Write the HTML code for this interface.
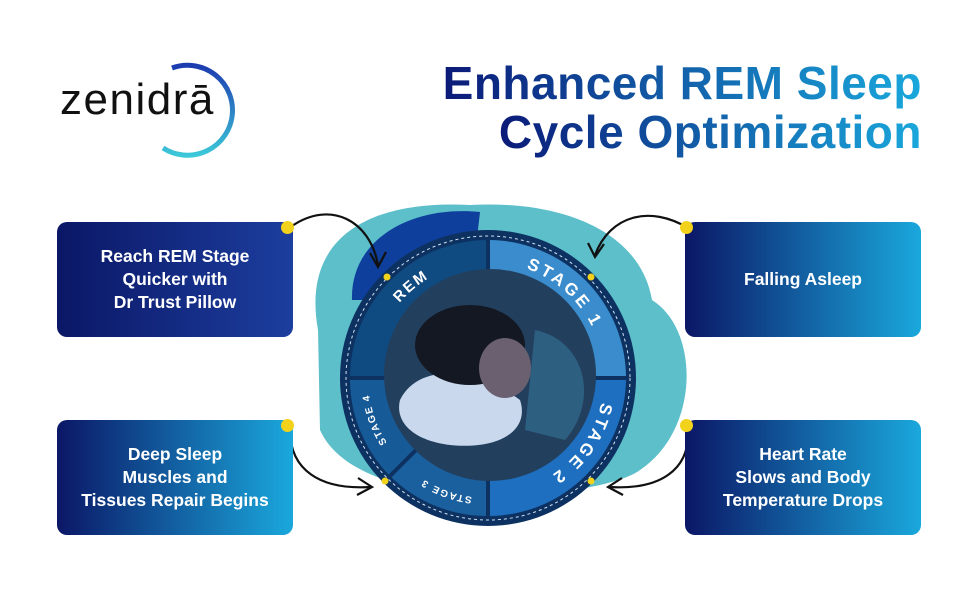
<!DOCTYPE html>
<html><head><style>
body{margin:0;width:970px;height:600px;background:#fff;position:relative;overflow:hidden;font-family:"Liberation Sans",sans-serif}
.t{position:absolute;right:48px;font-weight:bold;font-size:46px;letter-spacing:0.5px;background:linear-gradient(90deg,#0b1a78,#1aa8dc);-webkit-background-clip:text;background-clip:text;color:transparent;white-space:nowrap}
.box{position:absolute;width:236px;height:115px;border-radius:10px;color:#fff;font-weight:bold;font-size:17.5px;line-height:23px;display:flex;align-items:center;justify-content:center;text-align:center}
.dot{position:absolute;width:13px;height:13px;border-radius:50%;background:#f3d21c}
</style></head><body>
<div style="position:absolute;left:60px;top:75px;font-size:44px;color:#111;letter-spacing:1.5px">zenidrā</div>
<svg style="position:absolute;left:0;top:0" width="970" height="600">
<defs><linearGradient id="lg" x1="0" y1="0" x2="0" y2="1"><stop offset="0" stop-color="#1c3bb0"/><stop offset="1" stop-color="#3cc8d8"/></linearGradient>
<path id="cp" d="M488 262 A116 116 0 1 1 488 494 A116 116 0 1 1 488 262"/>
<path id="cp2" d="M488 258 A120 120 0 1 1 488 498 A120 120 0 1 1 488 258"/>
</defs>
<path d="M172 68 A45 45 0 1 1 163 148" fill="none" stroke="url(#lg)" stroke-width="5"/>
<path d="M318 330 C300 230 380 200 470 205 C560 200 640 230 652 300 C700 330 700 430 640 470 C600 500 360 520 320 430 Z" fill="#5cbfca"/>
<path d="M352 300 C350 240 410 205 480 212 L470 300 Z" fill="#0e3f9c"/>
<circle cx="488" cy="378" r="148" fill="#0d3262"/>
<path d="M488 378 L488 240 A138 138 0 0 0 350 378 Z" fill="#0f4a80"/>
<path d="M488 378 L488 240 A138 138 0 0 1 626 378 Z" fill="#3a8ccc"/>
<path d="M488 378 L626 378 A138 138 0 0 1 488 516 Z" fill="#1e6fbf"/>
<path d="M488 378 L488 516 A138 138 0 0 1 390 476 Z" fill="#1a5f9e"/>
<path d="M488 378 L390 476 A138 138 0 0 1 350 378 Z" fill="#175a98"/>
<line x1="488" y1="240" x2="488" y2="516" stroke="#0d3262" stroke-width="4"/>
<line x1="350" y1="378" x2="626" y2="378" stroke="#0d3262" stroke-width="4"/>
<line x1="488" y1="378" x2="390" y2="476" stroke="#0d3262" stroke-width="4"/>
<circle cx="488" cy="378" r="142" fill="none" stroke="#cfe0f0" stroke-width="1" stroke-dasharray="3 3"/>
<circle cx="490" cy="375" r="106" fill="#233f5e"/>
<path d="M400 400 C420 360 480 370 520 400 C530 430 500 450 450 445 C410 440 395 420 400 400 Z" fill="#c9d8ec"/>
<ellipse cx="470" cy="345" rx="55" ry="40" fill="#141822"/>
<ellipse cx="505" cy="368" rx="26" ry="30" fill="#6a6070"/>
<path d="M535 330 C585 340 600 400 565 440 L525 430 Z" fill="#2d5f80"/>
<g fill="#fff" font-weight="bold" font-family="Liberation Sans" text-anchor="middle">
<text font-size="15" letter-spacing="2"><textPath href="#cp" startOffset="88.9%">REM</textPath></text>
<text font-size="17" letter-spacing="3"><textPath href="#cp" startOffset="11.7%">STAGE 1</textPath></text>
<text font-size="17" letter-spacing="3"><textPath href="#cp" startOffset="34.7%">STAGE 2</textPath></text>
<text font-size="10" letter-spacing="1.5"><textPath href="#cp2" startOffset="55.6%">STAGE 3</textPath></text>
<text font-size="10" letter-spacing="1.5"><textPath href="#cp2" startOffset="69.4%">STAGE 4</textPath></text>
</g>
<g fill="#f3d21c"><circle cx="387" cy="277" r="3.5"/><circle cx="591" cy="277" r="3.5"/><circle cx="385" cy="481" r="3.5"/><circle cx="591" cy="481" r="3.5"/></g>
<g fill="none" stroke="#111" stroke-width="2.2">
<path d="M292 226 C330 200 370 220 378 265"/><path d="M370 253 L378 267 L386 252"/>
<path d="M688 228 C650 205 610 215 595 255"/><path d="M588 243 L595 257 L604 244"/>
<path d="M290 430 C290 470 320 490 370 487"/><path d="M358 478 L372 487 L357 495"/>
<path d="M688 430 C690 470 660 490 610 487"/><path d="M622 478 L608 487 L623 495"/>
</g>
</svg>
<div class="t" style="top:56px">Enhanced REM Sleep</div>
<div class="t" style="top:105px">Cycle Optimization</div>
<div class="box" style="left:57px;top:222px;background:linear-gradient(90deg,#0b1766,#1c3e9e)">Reach REM Stage<br>Quicker with<br>Dr Trust Pillow</div>
<div class="box" style="left:57px;top:420px;background:linear-gradient(90deg,#0b1766,#1aa8dc)">Deep Sleep<br>Muscles and<br>Tissues Repair Begins</div>
<div class="box" style="left:685px;top:222px;background:linear-gradient(90deg,#0b1766,#1aa8dc)">Falling Asleep</div>
<div class="box" style="left:685px;top:420px;background:linear-gradient(90deg,#0b1766,#1aa8dc)">Heart Rate<br>Slows and Body<br>Temperature Drops</div>
<div class="dot" style="left:281px;top:221px"></div>
<div class="dot" style="left:281px;top:419px"></div>
<div class="dot" style="left:680px;top:221px"></div>
<div class="dot" style="left:680px;top:419px"></div>
</body></html>
